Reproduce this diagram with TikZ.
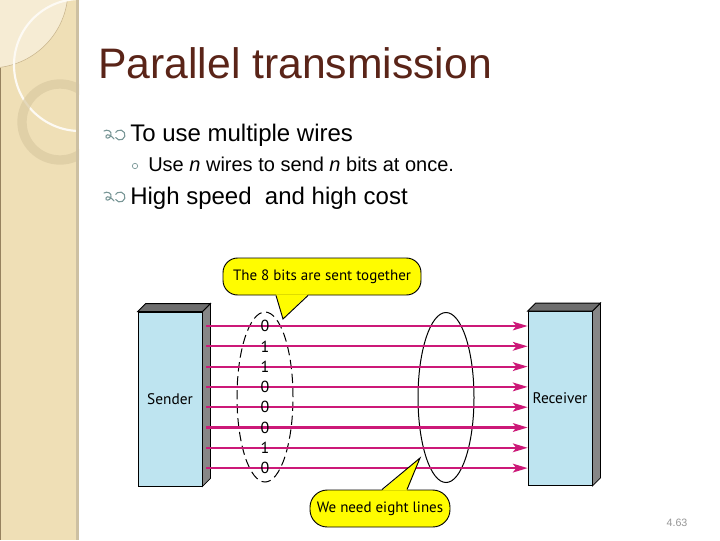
\documentclass[tikz,border=0pt]{standalone}
\usepackage{fontspec}
\setmainfont{Liberation Sans}
\newfontfamily\figfont{PT Sans}
\usetikzlibrary{arrows.meta,shapes.geometric,calc}
\definecolor{strip}{RGB}{239,223,182}
\definecolor{palecream}{RGB}{246,236,212}
\definecolor{arcline}{RGB}{200,180,140}
\definecolor{ringcol}{RGB}{218,202,162}
\definecolor{stripedge}{RGB}{205,192,162}
\definecolor{stripline}{RGB}{150,130,95}
\definecolor{titlecol}{RGB}{90,36,24}
\definecolor{bulletcol}{RGB}{120,150,150}
\definecolor{boxblue}{RGB}{190,228,240}
\definecolor{sidegray}{RGB}{135,135,135}
\definecolor{topgray}{RGB}{110,110,110}
\definecolor{wirecol}{RGB}{204,25,120}
\definecolor{calloutyellow}{RGB}{255,252,0}
\definecolor{numgray}{RGB}{150,150,150}
\tikzset{
  titletext/.style={anchor=base west, inner sep=0, text=titlecol, font=\fontsize{32}{38}\selectfont},
  bigbullet/.style={anchor=base west, inner sep=0, font=\fontsize{18}{22}\selectfont},
  subbullet/.style={anchor=base west, inner sep=0, font=\fontsize{15}{18}\selectfont},
  station/.style={draw, fill=boxblue, line width=0.6pt, minimum width=48pt, minimum height=130.5pt, inner sep=0, font=\figfont\fontsize{11.5}{13}\selectfont},
  sideface/.style={draw, fill=sidegray, line width=0.6pt},
  topface/.style={draw, fill=topgray, line width=0.6pt},
  wire/.style={draw=wirecol, line width=1.6pt, -{Stealth[length=11pt, width=6.5pt, inset=2.5pt]}},
  bit/.style={inner sep=0, text=black, font=\figfont\fontsize{12}{14}\selectfont},
  group/.style={ellipse, draw, inner sep=0, minimum width=42pt, minimum height=127.5pt, line width=0.75pt},
  callout/.style={draw, fill=calloutyellow, line width=0.7pt, inner sep=0, minimum height=27.75pt, font=\figfont\fontsize{11.25}{13}\selectfont},
  wbul/.pic={
    \draw[bulletcol, line width=0.8pt, line cap=round]
      (-10,-4) .. controls (-7,-6) and (-2,-4) .. (-3,0)
      .. controls (-4,4) and (-9,4) .. (-8,1)
      .. controls (-7,-2) and (-2,1) .. (0,4);
    \draw[bulletcol, line width=0.8pt, line cap=round]
      ($(6,0)+(150:5)$) arc[start angle=150, end angle=-150, radius=5];
  }
}
\begin{document}
\begin{tikzpicture}[x=0.75pt,y=-0.75pt]
\useasboundingbox (0,0) rectangle (720,540);
\fill[white] (0,0) rectangle (720,540);
% left decorative strip
\fill[strip] (0,0) rectangle (79,540);
\begin{scope}
  \clip (0,0) rectangle (79,540);
  \fill[palecream] (-10,-10) circle[radius=78];
  \draw[arcline, line width=0.4pt] (-10,-10) circle[radius=78];
  \draw[white!85!strip, line width=1.6pt] (80,65) circle[radius=66];
  \draw[ringcol, line width=7pt, opacity=0.7] (60,122) circle[radius=38];
\end{scope}
\fill[stripedge] (76,0) rectangle (79,540);
\fill[stripline] (0,68) rectangle (1.2,540);

% title and bullets
\node[titletext] (title) at (98,78) {Parallel transmission};
\pic at (114,135) {wbul};
\node[bigbullet] (b1txt) at (130,141) {To use multiple wires};
\node[draw=bulletcol, circle, inner sep=0, minimum size=4pt, line width=0.5pt] (sb) at (135,166) {};
\node[subbullet] (sbtxt) at (148,171) {Use \textit{n} wires to send \textit{n} bits at once.};
\pic at (114,197) {wbul};
\node[bigbullet] (b2txt) at (130,204) {High speed~ and high cost};

% stations
\node[station] (sender) at (170,399) {Sender};
\node[station] (receiver) at (560,398.5) {Receiver};
\foreach \s in {sender,receiver}{
  \draw[sideface] (\s.north east) -- ++(8,-8) -- ($(\s.south east)+(8,-8)$) -- (\s.south east) -- cycle;
  \draw[topface] (\s.north west) -- ++(8,-8) -- ($(\s.north east)+(8,-8)$) -- (\s.north east) -- cycle;
}

% groups
\node[group, dash pattern=on 7pt off 3.5pt] (grp1) at (265,397) {};
\node[group] (grp2) at (446,397.5) {};

% wires and bits
\foreach \i/\b in {0/0,1/1,2/1,3/0,4/0,5/0,6/1,7/0}{
  \coordinate (c\i) at (265,{326+20.3*\i});
  \draw[wire] ([xshift=3pt]sender.east |- c\i) -- (receiver.west |- c\i);
  \node[bit] (bit\i) at (c\i) {\b};
}

% top callout
\node[callout, minimum width=148.5pt, rounded corners=11pt] (cb1) at (322,276.5) {The 8 bits are sent together};
\coordinate (tip1) at (283,319);
\fill[calloutyellow] ($(cb1.south)+(-46,-1.2)$) -- (tip1) -- ($(cb1.south)+(-14,-1.2)$) -- cycle;
\draw[line width=0.7pt, line join=miter] ($(cb1.south)+(-46,0)$) -- (tip1) -- ($(cb1.south)+(-14,0)$);

% bottom callout
\node[callout, minimum width=105pt, rounded corners=13pt] (cb2) at (380,508.5) {We need eight lines};
\coordinate (tip2) at (420,458);
\fill[calloutyellow] ($(cb2.north)+(2,1.2)$) -- (tip2) -- ($(cb2.north)+(27,1.2)$) -- cycle;
\draw[line width=0.7pt, line join=miter] ($(cb2.north)+(2,0)$) -- (tip2) -- ($(cb2.north)+(27,0)$);

% slide number
\node[inner sep=0, text=numgray, font=\fontsize{8}{10}\selectfont] (num) at (677,523) {4.63};
\end{tikzpicture}
\end{document}
